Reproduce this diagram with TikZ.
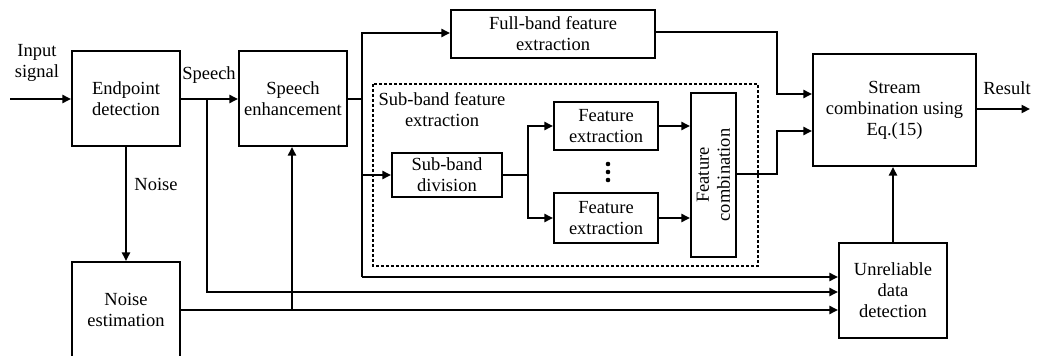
\documentclass[tikz,border=0pt]{standalone}
\usepackage{fontspec}
\setmainfont{Liberation Serif}
\newfontfamily\figfont{Liberation Serif}
\usetikzlibrary{arrows.meta}
\begin{document}
\begin{tikzpicture}[x=1pt,y=-1pt,
  every node/.style={font=\figfont\fontsize{18.5}{21}\selectfont},
  blk/.style={draw,line width=2.1pt,rectangle,inner sep=0pt,align=center},
  conn/.style={line width=2.1pt},
  arr/.style={conn,-{Triangle[length=8.5pt,width=8pt]}},
  lbl/.style={inner sep=0pt,align=center}]
\useasboundingbox (0,0) rectangle (1037,356);

% processing blocks
\node[blk,minimum width=108pt,minimum height=95pt] (ep) at (126,98.5) {Endpoint\\detection};
\node[blk,minimum width=108pt,minimum height=95pt] (se) at (293,98.5) {Speech\\enhancement};
\node[blk,minimum width=108pt,minimum height=96pt] (ne) at (126,310) {Noise\\estimation};
\node[blk,minimum width=204pt,minimum height=48pt] (fb) at (553,34) {Full-band feature\\extraction};
\node[blk,minimum width=110pt,minimum height=44pt] (sbd) at (447,175) {Sub-band\\division};
\node[blk,minimum width=104pt,minimum height=48pt] (fe1) at (606,126) {Feature\\extraction};
\node[blk,minimum width=104pt,minimum height=50pt] (fe2) at (606,218) {Feature\\extraction};
\node[blk,minimum width=45pt,minimum height=164pt] (fc) at (713.5,175) {};
\node[lbl,rotate=90] (fct) at (fc.center) {Feature\\combination};
\node[blk,minimum width=163pt,minimum height=112pt] (sc) at (894.5,110) {Stream\\combination using\\Eq.(15)};
\node[blk,minimum width=108pt,minimum height=95pt] (ud) at (893,290.5) {Unreliable\\data\\detection};

% sub-band group
\draw[line width=1.4pt,dash pattern=on 3pt off 2pt] (373,84) rectangle (758,266);
\node[lbl] (sbt) at (442,110) {Sub-band feature\\extraction};
\foreach \yy/\nm in {164/d1,172/d2,180/d3}
  \fill (608,\yy) circle (2.3pt) coordinate (\nm);

% labels
\node[lbl] (inl) at (37,63) {Input\\signal};
\node[lbl] (spl) at (209,75) {Speech};
\node[lbl] (nol) at (156,184) {Noise};
\node[lbl] (rel) at (1007,88) {Result};

% free ends and junctions
\coordinate (in) at (10,99);
\coordinate (out) at (1030,109);
\coordinate (sj) at (207,99);
\coordinate (nj) at (292,310);
\coordinate (ej) at (362,99);
\coordinate (dj) at (528,175);

% connectors
\draw[arr] (in) -- (in -| ep.west);
\draw[arr] (ep.east |- sj) -- (se.west |- sj);
\draw[arr] (ep.south) -- (ne.north);
\draw[arr] (sj) -- (207,292) -- (ud.west |- 0,292);
\draw[arr] (ne.east |- nj) -- (ud.west |- nj);
\draw[arr] (nj) -- (se.south -| nj);
\draw[conn] (se.east |- ej) -- (ej);
\draw[arr] (362,277) -- (362,33) -- (fb.west |- 0,33);
\draw[arr] (362,175) -- (sbd.west);
\draw[arr] (362,277) -- (ud.west |- 0,277);
\draw[conn] (sbd.east) -- (dj);
\draw[arr] (dj) |- (fe1.west);
\draw[arr] (dj) |- (fe2.west);
\draw[arr] (fe1.east) -- (fc.west |- fe1.east);
\draw[arr] (fe2.east) -- (fc.west |- fe2.east);
\draw[arr] (fb.east |- 0,32) -- (777,32) -- (777,94) -- (sc.west |- 0,94);
\draw[arr] (fc.east |- 0,174) -- (777,174) -- (777,131) -- (sc.west |- 0,131);
\draw[arr] (sc.east |- out) -- (out);
\draw[arr] (ud.north) -- (ud.north |- sc.south);
\end{tikzpicture}
\end{document}
